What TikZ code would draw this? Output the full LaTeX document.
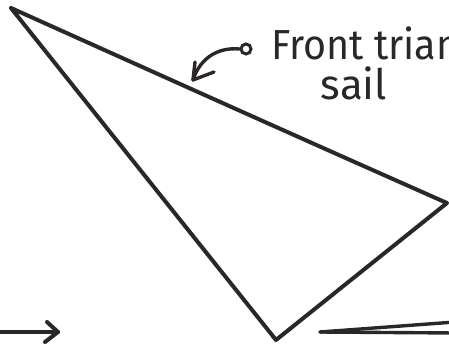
\documentclass[tikz,border=0pt]{standalone}
\usepackage{fontspec}
\setmainfont{Fira Sans}
\definecolor{ink}{HTML}{2B2627}
\begin{document}
\begin{tikzpicture}[x=1pt,y=-1pt,
  pen/.style={draw=ink,line width=4pt,line cap=round,line join=round},
  thinpen/.style={draw=ink,line width=3.4pt,line cap=round,line join=round},
  hand/.style={text=ink,inner sep=0pt,font=\fontsize{42}{42}\selectfont}]
\useasboundingbox (0,0) rectangle (449,347);
\clip (0,0) rectangle (449,347);
% triangle vertices
\coordinate (top) at (11,8);
\coordinate (right) at (447,203);
\coordinate (bottom) at (276,340);
\draw[pen] (top) .. controls (160,75) and (300,138) .. (right)
  -- (bottom) -- (top);
% label
\node[hand,anchor=base west,xscale=0.94] (label1) at (271,60) {Front trian};
\node[hand,anchor=base,font=\fontsize{42}{42}\selectfont] (label2) at (354,100) {sail};
\node[draw=ink,line width=3pt,circle,minimum size=10pt,inner sep=0pt] (dot) at (246,49) {};
\coordinate (tip) at (193,80);
\coordinate (arm1) at (195,62);
\coordinate (arm2) at (214,72);
\draw[thinpen] (dot.west) .. controls (218,47) and (200,58) .. (tip);
\draw[thinpen] (arm1) -- (tip) -- (arm2);
% bottom-left arrow
\coordinate (a0) at (-5,332);
\coordinate (a1) at (58,332);
\coordinate (h1) at (47,322);
\coordinate (h2) at (45,342);
\draw[pen] (a0) -- (a1);
\draw[pen] (h1) -- (a1) -- (h2);
% bottom-right wedge
\coordinate (w0) at (320,332);
\coordinate (w1) at (455,322);
\coordinate (w2) at (455,333);
\draw[thinpen] (w0) -- (w1);
\draw[thinpen] (w0) -- (w2);
\end{tikzpicture}
\end{document}
